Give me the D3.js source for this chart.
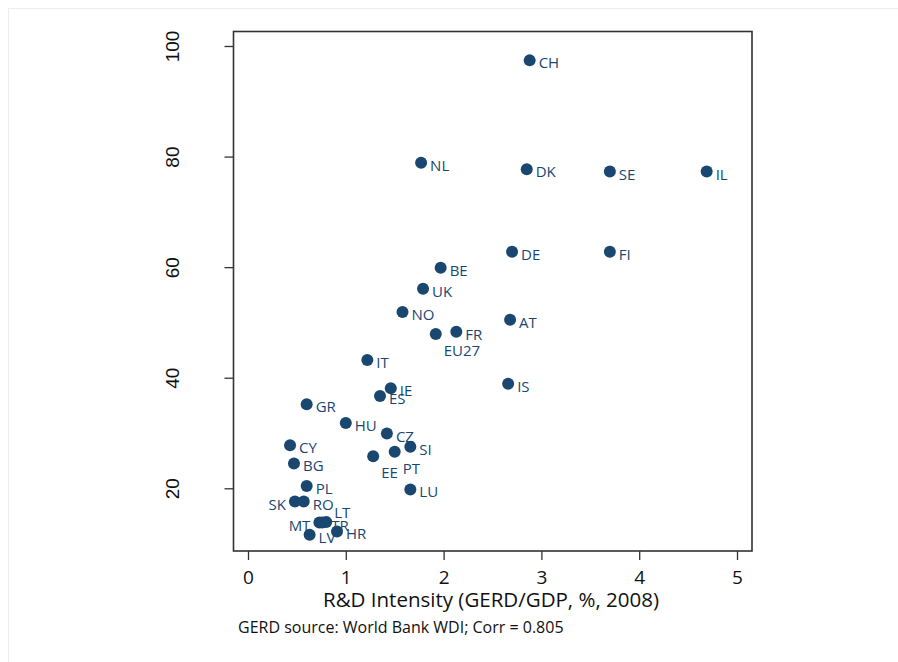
<!DOCTYPE html>
<html>
<head>
<meta charset="utf-8">
<script src="https://cdn.jsdelivr.net/npm/d3@7"></script>
<style>
  body { margin: 0; background: #fff; }
  text { fill: #1a476f; }
</style>
</head>
<body>
<div class="canvas"></div>
<script>
// country codes
const countries = ['CH', 'NL', 'DK', 'SE', 'IL', 'DE', 'FI', 'BE', 'UK', 'NO', 'AT', 'FR', 'EU27',
  'IT', 'IS', 'IE', 'ES', 'GR', 'HU', 'CZ', 'CY', 'SI', 'PT', 'EE', 'BG', 'PL', 'LU',
  'SK', 'RO', 'MT', 'TR', 'LT', 'HR', 'LV'];
// R&D intensity (GERD/GDP, %, 2008)
const gerd = [2.88, 1.77, 2.85, 3.70, 4.69, 2.70, 3.70, 1.97, 1.79, 1.58, 2.68, 2.13, 1.92,
  1.22, 2.66, 1.46, 1.35, 0.60, 1.00, 1.42, 0.43, 1.66, 1.50, 1.28, 0.47, 0.60, 1.66,
  0.48, 0.57, 0.73, 0.76, 0.80, 0.91, 0.63];
// y variable
const yvals = [97.4, 78.9, 77.7, 77.3, 77.3, 62.8, 62.8, 59.9, 56.1, 51.9, 50.5, 48.3, 47.9,
  43.2, 38.9, 38.1, 36.7, 35.2, 31.8, 29.9, 27.8, 27.5, 26.6, 25.8, 24.5, 20.4, 19.8,
  17.6, 17.6, 13.8, 13.8, 13.9, 12.2, 11.6];
const xTicks = [0, 1, 2, 3, 4, 5];
const yTicks = [20, 40, 60, 80, 100];
const note = 'GERD source: World Bank WDI; Corr = 0.805';
const xTitle = 'R&D Intensity (GERD/GDP, %, 2008)';

// marker label clock positions (default 3 o'clock)
const labelPos = { EU27: 5, EE: 5, PT: 5, SK: 9, MT: 9, LT: 1 };

const data = countries.map((c, i) => ({ name: c, x: gerd[i], y: yvals[i] }));

const width = 898, height = 662;
const navy = '#1a476f';

const svg = d3.select('.canvas')
  .append('svg')
  .attr('width', width)
  .attr('height', height);

// faint outer frame
svg.append('rect')
  .attr('x', 8.5).attr('y', 8.5)
  .attr('width', width).attr('height', height)
  .attr('fill', 'none')
  .attr('stroke', '#eeeeee');

const x = d3.scaleLinear().domain([0, 5]).range([248, 737]);
const y = d3.scaleLinear().domain([20, 100]).range([488.3, 46]);

const plot = { left: 233.5, right: 752, top: 31.5, bottom: 551 };

svg.append('rect')
  .attr('x', plot.left).attr('y', plot.top)
  .attr('width', plot.right - plot.left)
  .attr('height', plot.bottom - plot.top)
  .attr('fill', 'none')
  .attr('stroke', '#333')
  .attr('stroke-width', 1.6);

const xAxis = d3.axisBottom(x).tickValues(xTicks).tickSize(9).tickPadding(11).tickFormat(d => d);
const yAxis = d3.axisLeft(y).tickValues(yTicks).tickSize(9).tickFormat(d => d);

const xAxisGroup = svg.append('g')
  .attr('transform', `translate(0, ${plot.bottom})`)
  .call(xAxis);
xAxisGroup.select('.domain').remove();
xAxisGroup.selectAll('line').attr('stroke', '#333').attr('stroke-width', 1.3);
xAxisGroup.selectAll('text')
  .attr('font-family', '"Open Sans"')
  .attr('font-size', '19px')
  .style('fill', '#111');

const yAxisGroup = svg.append('g')
  .attr('transform', `translate(${plot.left}, 0)`)
  .call(yAxis);
yAxisGroup.select('.domain').remove();
yAxisGroup.selectAll('line').attr('stroke', '#333').attr('stroke-width', 1.3);
yAxisGroup.selectAll('text')
  .attr('x', null).attr('dy', null).attr('y', 0)
  .attr('transform', 'translate(-61, 0) rotate(-90)')
  .attr('text-anchor', 'middle')
  .attr('dominant-baseline', 'central')
  .attr('font-family', '"Liberation Sans", Arial')
  .attr('font-size', '19px')
  .style('fill', '#111');

// axis title and note
svg.append('text')
  .attr('x', 491).attr('y', 607)
  .attr('text-anchor', 'middle')
  .attr('font-family', '"Open Sans"')
  .attr('font-size', '20.5px')
  .style('fill', '#111')
  .text(xTitle);

svg.append('text')
  .attr('x', 238).attr('y', 633)
  .attr('font-family', '"Open Sans"')
  .attr('font-size', '16px')
  .style('fill', '#111')
  .text(note);

// markers
svg.append('g').selectAll('circle')
  .data(data)
  .enter()
  .append('circle')
  .attr('cx', d => x(d.x))
  .attr('cy', d => y(d.y))
  .attr('r', 6)
  .attr('fill', navy);

const offsets = {
  3: { dx: 9, dy: 2, anchor: 'start' },
  5: { dx: 8, dy: 16, anchor: 'start' },
  9: { dx: -9, dy: 2, anchor: 'end' },
  1: { dx: 8, dy: -10, anchor: 'start' }
};

svg.append('g').selectAll('text')
  .data(data)
  .enter()
  .append('text')
  .attr('x', d => x(d.x) + offsets[labelPos[d.name] || 3].dx)
  .attr('y', d => y(d.y) + offsets[labelPos[d.name] || 3].dy)
  .attr('text-anchor', d => offsets[labelPos[d.name] || 3].anchor)
  .attr('dominant-baseline', 'central')
  .attr('font-family', '"Open Sans"')
  .attr('font-size', '15px')
  .text(d => d.name);
</script>
</body>
</html>
